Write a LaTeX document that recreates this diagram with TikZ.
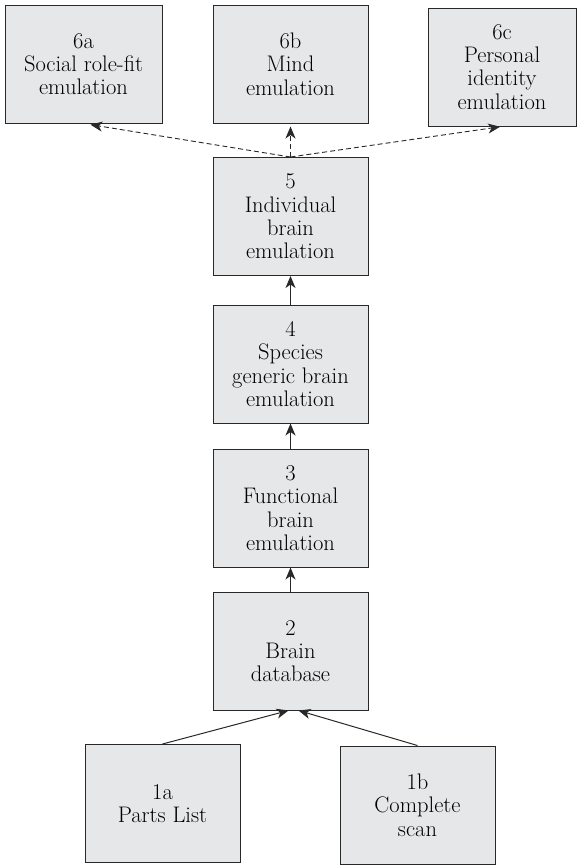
\documentclass[tikz,border=0pt]{standalone}
\usepackage{xcolor}
\usepackage{tikz}
\usetikzlibrary{arrows.meta}
\definecolor{boxgray}{RGB}{230,231,232}
\definecolor{linegray}{RGB}{40,40,40}

\begin{document}
\begin{tikzpicture}[x=1pt,y=-1pt,>={Stealth[length=12pt,width=10pt,inset=3.5pt]},
  box/.style={draw=linegray,fill=boxgray,line width=1pt,minimum width=155pt,minimum height=118pt,
    inner sep=0pt,align=center,font=\fontsize{22.5}{23.3}\selectfont},
  up/.style={->,line width=1pt,draw=linegray},
  maybe/.style={->,line width=0.9pt,draw=linegray,dash pattern=on 5pt off 3pt}]
  \useasboundingbox (0,0) rectangle (577,865);
  % emulation targets
  \node[box,minimum width=157pt] (n6a) at (83.5,64) {6a\\Social role-fit\\emulation};
  \node[box] (n6b) at (290.5,64) {6b\\Mind\\emulation};
  \node[box,minimum width=148pt] (n6c) at (502,67) {6c\\Personal\\identity\\emulation};
  % main column
  \node[box] (n5) at (290.5,216.5) {5\\Individual\\brain\\emulation};
  \node[box] (n4) at (290.5,364) {4\\Species\\generic brain\\emulation};
  \node[box] (n3) at (290.5,508) {3\\Functional\\brain\\emulation};
  \node[box] (n2) at (290.5,651) {2\\Brain\\database};
  % inputs
  \node[box] (n1a) at (162.5,803.5) {1a\\Parts List};
  \node[box] (n1b) at (417.5,805) {1b\\Complete\\scan};
  % links
  \draw[up] (n1a.north) -- ([xshift=-2pt]n2.south);
  \draw[up] (n1b.north) -- ([xshift=8pt]n2.south);
  \draw[up] (n2) -- (n3);
  \draw[up] (n3) -- (n4);
  \draw[up] (n4) -- (n5);
  \draw[maybe,shorten >=7pt] (n5.north) -- (n6a.south);
  \draw[maybe,shorten >=3pt] (n5.north) -- (n6b.south);
  \draw[maybe,shorten >=2pt] (n5.north) -- (n6c.south);
\end{tikzpicture}
\end{document}
